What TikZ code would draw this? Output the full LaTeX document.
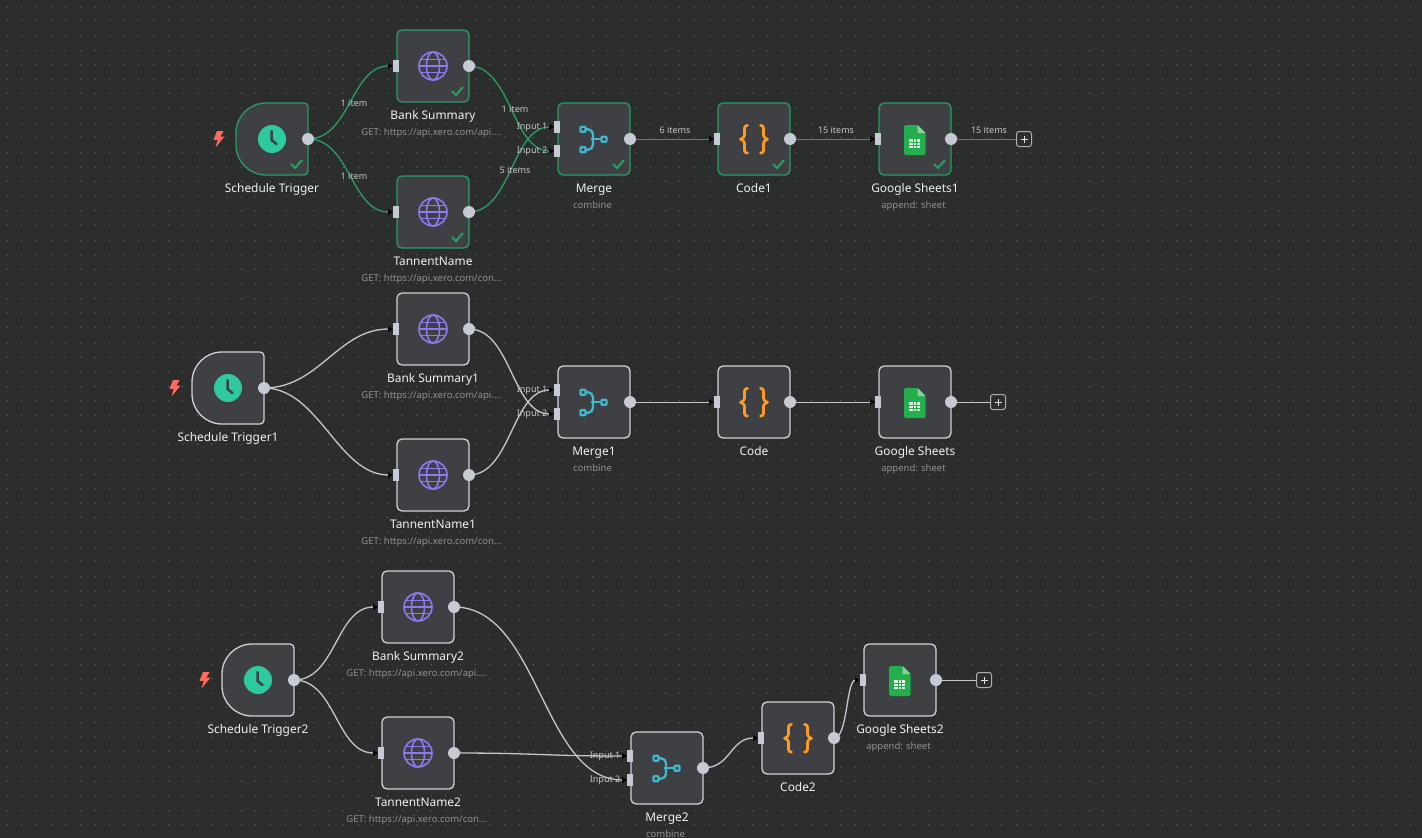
\documentclass[tikz,border=0pt]{standalone}
\usepackage{fontspec}
\setmainfont{Noto Sans}
\usetikzlibrary{arrows.meta,calc}
\pgfdeclarelayer{backl}
\pgfdeclarelayer{edgel}
\pgfsetlayers{backl,edgel,main}
\definecolor{bgc}{HTML}{2C2E2E}
\definecolor{dotc}{HTML}{6C6E6E}
\definecolor{boxc}{HTML}{3E4044}
\definecolor{okc}{HTML}{2A9D63}
\definecolor{idle}{HTML}{CFD1D6}
\definecolor{wirec}{HTML}{C4C6CC}
\definecolor{plusc}{HTML}{ACAEB3}
\definecolor{portc}{HTML}{C6CAD4}
\definecolor{titlec}{HTML}{F0F0F0}
\definecolor{subc}{HTML}{8E9094}
\definecolor{labelc}{HTML}{C4C6C8}
\definecolor{clockc}{HTML}{2FC9A0}
\definecolor{globec}{HTML}{8A7BEE}
\definecolor{mergec}{HTML}{40B8CE}
\definecolor{codec}{HTML}{FF9A22}
\definecolor{sheetc}{HTML}{23B04C}
\definecolor{boltc}{HTML}{FF6B5C}
\tikzset{
  x=1pt,y=-1pt,
  flowbox/.style={rectangle,draw=#1,fill=boxc,line width=1.3pt,rounded corners=5pt,minimum width=72pt,minimum height=72pt,inner sep=0pt,outer sep=0pt},
  triggeranchor/.style={rectangle,minimum width=72pt,minimum height=72pt,inner sep=0pt,outer sep=0pt},
  inport/.style={rectangle,fill=portc,minimum width=6pt,minimum height=12pt,inner sep=0pt,outer sep=0pt},
  outport/.style={circle,fill=portc,minimum size=12pt,inner sep=0pt,outer sep=0pt},
  titletext/.style={text=titlec,font=\fontsize{11.9}{13}\selectfont,inner sep=0pt,anchor=base},
  subtext/.style={text=subc,font=\fontsize{9.5}{10}\selectfont,inner sep=0pt,anchor=base},
  edgelabel/.style={text=labelc,font=\fontsize{9}{10}\selectfont,inner sep=0pt},
  wire/.style={draw=#1,line width=1.3pt,-{Latex[length=5pt,width=7pt,color=black]}},
  flatwire/.style={draw=#1,line width=0.9pt,-{Latex[length=5pt,width=7pt,color=black]}},
  endwire/.style={draw=#1,line width=0.9pt},
  plusbox/.style={rectangle,draw=plusc,fill=bgc,line width=1pt,rounded corners=2.5pt,minimum size=15pt,inner sep=0pt,outer sep=0pt},
}
\newcommand{\iconglobe}[1]{\begin{scope}[shift={(#1)},draw=globec,line width=1.6pt]
  \draw (0,0) circle[radius=14pt];
  \draw (0,0) ellipse[x radius=6.5pt,y radius=14pt];
  \draw (-14,0) -- (14,0);
  \draw (-12.4,-6.5) -- (12.4,-6.5);
  \draw (-12.4,6.5) -- (12.4,6.5);
\end{scope}}
\newcommand{\iconclock}[1]{\begin{scope}[shift={(#1)}]
  \fill[clockc] (0,0) circle[radius=14pt];
  \draw[boxc,line width=2.5pt,line cap=round,line join=round] (-0.5,-8) -- (-0.5,1) -- (4.5,5);
\end{scope}}
\newcommand{\iconmerge}[1]{\begin{scope}[shift={(#1)},draw=mergec,line width=2.3pt,line join=round]
  \draw[rounded corners=0.8pt] (-13.5,-12.2) rectangle (-8.5,-7.2);
  \draw[rounded corners=0.8pt] (-13.5,8.2) rectangle (-8.5,13.2);
  \draw[rounded corners=0.8pt] (7.5,-2.2) rectangle (12.5,2.8);
  \draw[rounded corners=5pt] (-8.5,-9.7) -- (-1,-9.7) -- (-1,0.3);
  \draw[rounded corners=5pt] (-8.5,10.7) -- (-1,10.7) -- (-1,0.3);
  \draw (-3,0.3) -- (7.5,0.3);
\end{scope}}
\newcommand{\iconcode}[1]{\begin{scope}[shift={(#1)},draw=codec,line width=2.7pt,line cap=round,line join=round]
  \draw[rounded corners=2.5pt] (-6.5,-13.5) -- (-9.5,-13.5) -- (-9.5,-1.5) -- (-13.5,0.3);
  \draw[rounded corners=2.5pt] (-13.5,0.3) -- (-9.5,2) -- (-9.5,14) -- (-6.5,14);
  \draw[rounded corners=2.5pt] (6.5,-13.5) -- (9.5,-13.5) -- (9.5,-1.5) -- (13.5,0.3);
  \draw[rounded corners=2.5pt] (13.5,0.3) -- (9.5,2) -- (9.5,14) -- (6.5,14);
\end{scope}}
\newcommand{\iconsheet}[1]{\begin{scope}[shift={(#1)}]
  \fill[sheetc,rounded corners=1.5pt] (-11,-14) -- (2.5,-14) -- (10.5,-6) -- (10.5,16) -- (-11,16) -- cycle;
  \fill[sheetc!55!white] (2.5,-14) -- (10.5,-6) -- (2.5,-6) -- cycle;
  \fill[white!92!sheetc] (-5.8,0.3) rectangle (5,8.8);
  \draw[sheetc,line width=0.5pt] (-5.8,3.1) -- (5,3.1) (-5.8,5.9) -- (5,5.9) (-2.2,0.3) -- (-2.2,8.8) (1.4,0.3) -- (1.4,8.8);
\end{scope}}
\newcommand{\iconcheck}[1]{\draw[okc,line width=2.1pt] ($(#1)+(-17,-11)$) -- ++(4,4) -- ++(7,-8);}
\newcommand{\iconbolt}[1]{\begin{scope}[shift={(#1)}]
  \fill[boltc] (-1.5,-8) -- (5,-8) -- (2,-2.5) -- (6,-2.5) -- (-3,8.5) -- (-0.8,0.8) -- (-5,0.8) -- cycle;
\end{scope}}
\newcommand{\flownode}[8]{%
  \node[flowbox=#4] (#1) at (#2+36,#3+36) {};
  #5{#1.center}
  \node[titletext] (#1-t) at (#2+36,#3+89) {#6};
  \node[subtext] (#1-s) at (#2+34.5,#3+105) {#7};
  #8
}
\newcommand{\triggernode}[5]{%
  \node[triggeranchor] (#1) at (#2+36,#3+36) {};
  \draw[draw=#4,fill=boxc,line width=1.3pt]
    [rounded corners=4pt] (#1.south east) -- (#1.north east)
    -- ($(#1.north west)+(32,0)$)
    [rounded corners=30pt] -- (#1.north west)
    -- (#1.south west)
    [rounded corners=4pt] -- cycle;
  \iconclock{#1.center}
  \node[titletext] (#1-t) at (#2+36,#3+89) {#5};
  \node[outport] (#1-out) at (#1.east) {};
  \iconbolt{$(#1.west)+(-17.5,0)$}
}
\newcommand{\addin}[1]{\node[inport] (#1-in) at ($(#1.west)+(-1,0)$) {};}
\newcommand{\addout}[1]{\node[outport] (#1-out) at (#1.east) {};}
\newcommand{\addmergein}[1]{%
  \node[inport] (#1-a) at ($(#1.west)+(-1,-12)$) {};
  \node[inport] (#1-b) at ($(#1.west)+(-1,12)$) {};
  \node[edgelabel,anchor=east] (#1-al) at ($(#1-a.west)+(-6.5,0.5)$) {Input 1};
  \node[edgelabel,anchor=east] (#1-bl) at ($(#1-b.west)+(-6.5,0.5)$) {Input 2};
}
\newcommand{\curve}[5][wirec]{\begin{pgfonlayer}{edgel}\draw[wire=#1] (#2.center) .. controls +(#4,0) and +(-#5,0) .. (#3.west);\end{pgfonlayer}}
\newcommand{\straight}[3][wirec]{\begin{pgfonlayer}{edgel}\draw[flatwire=#1] (#2.center) -- (#3.west);\end{pgfonlayer}}
\newcommand{\tail}[3][wirec]{\begin{pgfonlayer}{edgel}\draw[endwire=#1] (#2.center) -- (#3.west);\end{pgfonlayer}}
\newcommand{\plusmark}[1]{\draw[white!90!black,line width=0.9pt] (#1.center) +(-3.5,0) -- +(3.5,0) (#1.center) +(0,-3.5) -- +(0,3.5);}
\begin{document}
\begin{tikzpicture}
\useasboundingbox (0,0) rectangle (1422,838);
\begin{pgfonlayer}{backl}
\fill[bgc] (0,0) rectangle (1422,838);
\foreach \j in {0,...,57}{
  \draw[dotc,line width=1pt,dash pattern=on 1pt off 13.62pt] (6.8,6.2+\j*14.62) -- (1422,6.2+\j*14.62);
}
\end{pgfonlayer}

% --- first row
\triggernode{t0}{236}{103}{okc}{Schedule Trigger}
\iconcheck{t0.south east}
\flownode{a0}{397}{30}{okc}{\iconglobe}{Bank Summary}{GET: https://api.xero.com/api....}{\iconcheck{a0.south east}}
\flownode{b0}{397}{176}{okc}{\iconglobe}{TannentName}{GET: https://api.xero.com/con...}{\iconcheck{b0.south east}}
\flownode{m0}{558}{103}{okc}{\iconmerge}{Merge}{combine}{\iconcheck{m0.south east}}
\flownode{c0}{718}{103}{okc}{\iconcode}{Code1}{}{\iconcheck{c0.south east}}
\flownode{s0}{879}{103}{okc}{\iconsheet}{Google Sheets1}{append: sheet}{\iconcheck{s0.south east}}
\node[plusbox] (p0) at (1024,139) {};
\plusmark{p0}
\addin{a0}\addout{a0}\addin{b0}\addout{b0}\addmergein{m0}\addout{m0}\addin{c0}\addout{c0}\addin{s0}\addout{s0}
\curve[okc]{t0-out}{a0-in}{42}{42}
\curve[okc]{t0-out}{b0-in}{42}{42}
\curve[okc]{a0-out}{m0-b}{42}{42}
\curve[okc]{b0-out}{m0-a}{42}{42}
\straight[okc]{m0-out}{c0-in}
\straight[okc]{c0-out}{s0-in}
\tail[okc]{s0-out}{p0}
\node[edgelabel] (l1) at (354,103) {1 item};
\node[edgelabel] (l2) at (354,176) {1 item};
\node[edgelabel] (l3) at (515,109) {1 item};
\node[edgelabel] (l4) at (515,170) {5 items};
\node[edgelabel] (l5) at (675,130) {6 items};
\node[edgelabel] (l6) at (836,130) {15 items};
\node[edgelabel] (l7) at (989,130) {15 items};

% --- second row
\triggernode{t1}{192}{352}{idle}{Schedule Trigger1}
\flownode{a1}{397}{293}{idle}{\iconglobe}{Bank Summary1}{GET: https://api.xero.com/api....}{}
\flownode{b1}{397}{439}{idle}{\iconglobe}{TannentName1}{GET: https://api.xero.com/con...}{}
\flownode{m1}{558}{366}{idle}{\iconmerge}{Merge1}{combine}{}
\flownode{c1}{718}{366}{idle}{\iconcode}{Code}{}{}
\flownode{s1}{879}{366}{idle}{\iconsheet}{Google Sheets}{append: sheet}{}
\node[plusbox] (p1) at (998,402) {};
\plusmark{p1}
\addin{a1}\addout{a1}\addin{b1}\addout{b1}\addmergein{m1}\addout{m1}\addin{c1}\addout{c1}\addin{s1}\addout{s1}
\curve{t1-out}{a1-in}{55}{55}
\curve{t1-out}{b1-in}{55}{55}
\curve{a1-out}{m1-b}{42}{42}
\curve{b1-out}{m1-a}{42}{42}
\straight{m1-out}{c1-in}
\straight{c1-out}{s1-in}
\tail{s1-out}{p1}

% --- third row
\triggernode{t2}{222}{644}{idle}{Schedule Trigger2}
\flownode{a2}{382}{571}{idle}{\iconglobe}{Bank Summary2}{GET: https://api.xero.com/api....}{}
\flownode{b2}{382}{717}{idle}{\iconglobe}{TannentName2}{GET: https://api.xero.com/con...}{}
\flownode{m2}{631}{732}{idle}{\iconmerge}{Merge2}{combine}{}
\flownode{c2}{762}{702}{idle}{\iconcode}{Code2}{}{}
\flownode{s2}{864}{644}{idle}{\iconsheet}{Google Sheets2}{append: sheet}{}
\node[plusbox] (p2) at (984,680) {};
\plusmark{p2}
\addin{a2}\addout{a2}\addin{b2}\addout{b2}\addmergein{m2}\addout{m2}\addin{c2}\addout{c2}\addin{s2}\addout{s2}
\curve{t2-out}{a2-in}{42}{42}
\curve{t2-out}{b2-in}{42}{42}
\curve{a2-out}{m2-b}{85}{85}
\curve{b2-out}{m2-a}{85}{85}
\curve{m2-out}{c2-in}{28}{28}
\curve{c2-out}{s2-in}{14}{14}
\tail{s2-out}{p2}
\end{tikzpicture}
\end{document}
